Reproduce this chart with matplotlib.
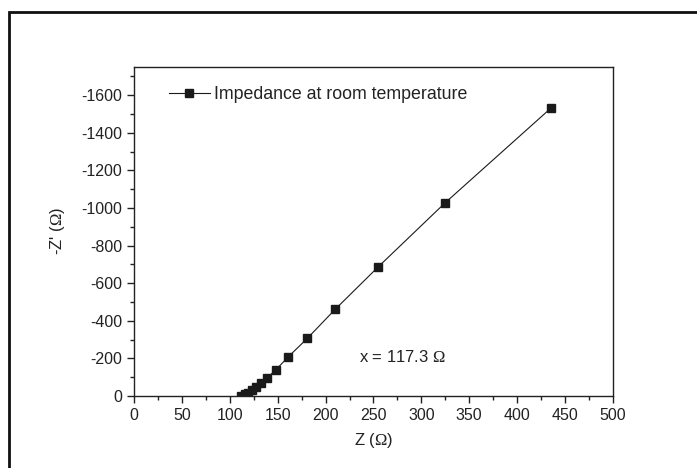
import numpy as np
import matplotlib
matplotlib.use("Agg")
import matplotlib.pyplot as plt
from matplotlib.patches import Rectangle
from matplotlib.ticker import MultipleLocator

plt.rcParams['font.family'] = ['Liberation Sans', 'DejaVu Sans']
plt.rcParams['axes.unicode_minus'] = False
plt.rcParams['mathtext.fontset'] = 'custom'
plt.rcParams['mathtext.rm'] = 'Liberation Serif'

# impedance data
z_real = [112, 115.6, 119, 123.6, 127.8, 133, 138.5, 148, 161, 181, 210, 255, 324.5, 435]
z_imag = [-2, -9, -18, -32, -46, -67, -94, -139, -208, -307, -461, -687, -1026, -1530]
series_label = "Impedance at room temperature"
note = r"x = 117.3 $\mathrm{\Omega}$"

fig = plt.figure(figsize=(6.97, 4.68), dpi=100)
fig.patches.append(Rectangle((0.0129, -0.1), 1.2, 1.074, transform=fig.transFigure,
                             fill=False, lw=2, ec='#111111'))

ax = fig.add_axes([0.1923, 0.1538, 0.687, 0.703])
ax.plot(z_real, z_imag, '-s', color='#1a1a1a', lw=0.8, ms=6, mfc='#1a1a1a',
        mec='#1a1a1a', label=series_label)

ax.set_xlim(0, 500)
ax.set_ylim(0, -1750)
ax.xaxis.set_major_locator(MultipleLocator(50))
ax.xaxis.set_minor_locator(MultipleLocator(25))
ax.yaxis.set_major_locator(MultipleLocator(200))
ax.yaxis.set_minor_locator(MultipleLocator(100))
ax.tick_params(which='both', direction='out', top=False, right=False,
               labelsize=11.5, colors='#222222', width=1)
ax.tick_params(which='major', length=5)
ax.tick_params(which='minor', length=3)
for s in ax.spines.values():
    s.set_linewidth(1)
    s.set_color('#222222')

ax.set_xlabel(r"Z ($\mathrm{\Omega}$)", fontsize=12, color='#222222', labelpad=6)
ax.set_ylabel(r"-Z' ($\mathrm{\Omega}$)", fontsize=12, color='#222222', labelpad=10)

ax.text(235, -207, note, fontsize=12, color='#222222', va='center')

ax.legend(loc='center left', bbox_to_anchor=(0.073, 0.915), frameon=False,
          fontsize=12.8, handlelength=2.3, handletextpad=0.25, borderpad=0,
          borderaxespad=0, labelcolor='#222222')

plt.savefig("out.png", dpi=100)
